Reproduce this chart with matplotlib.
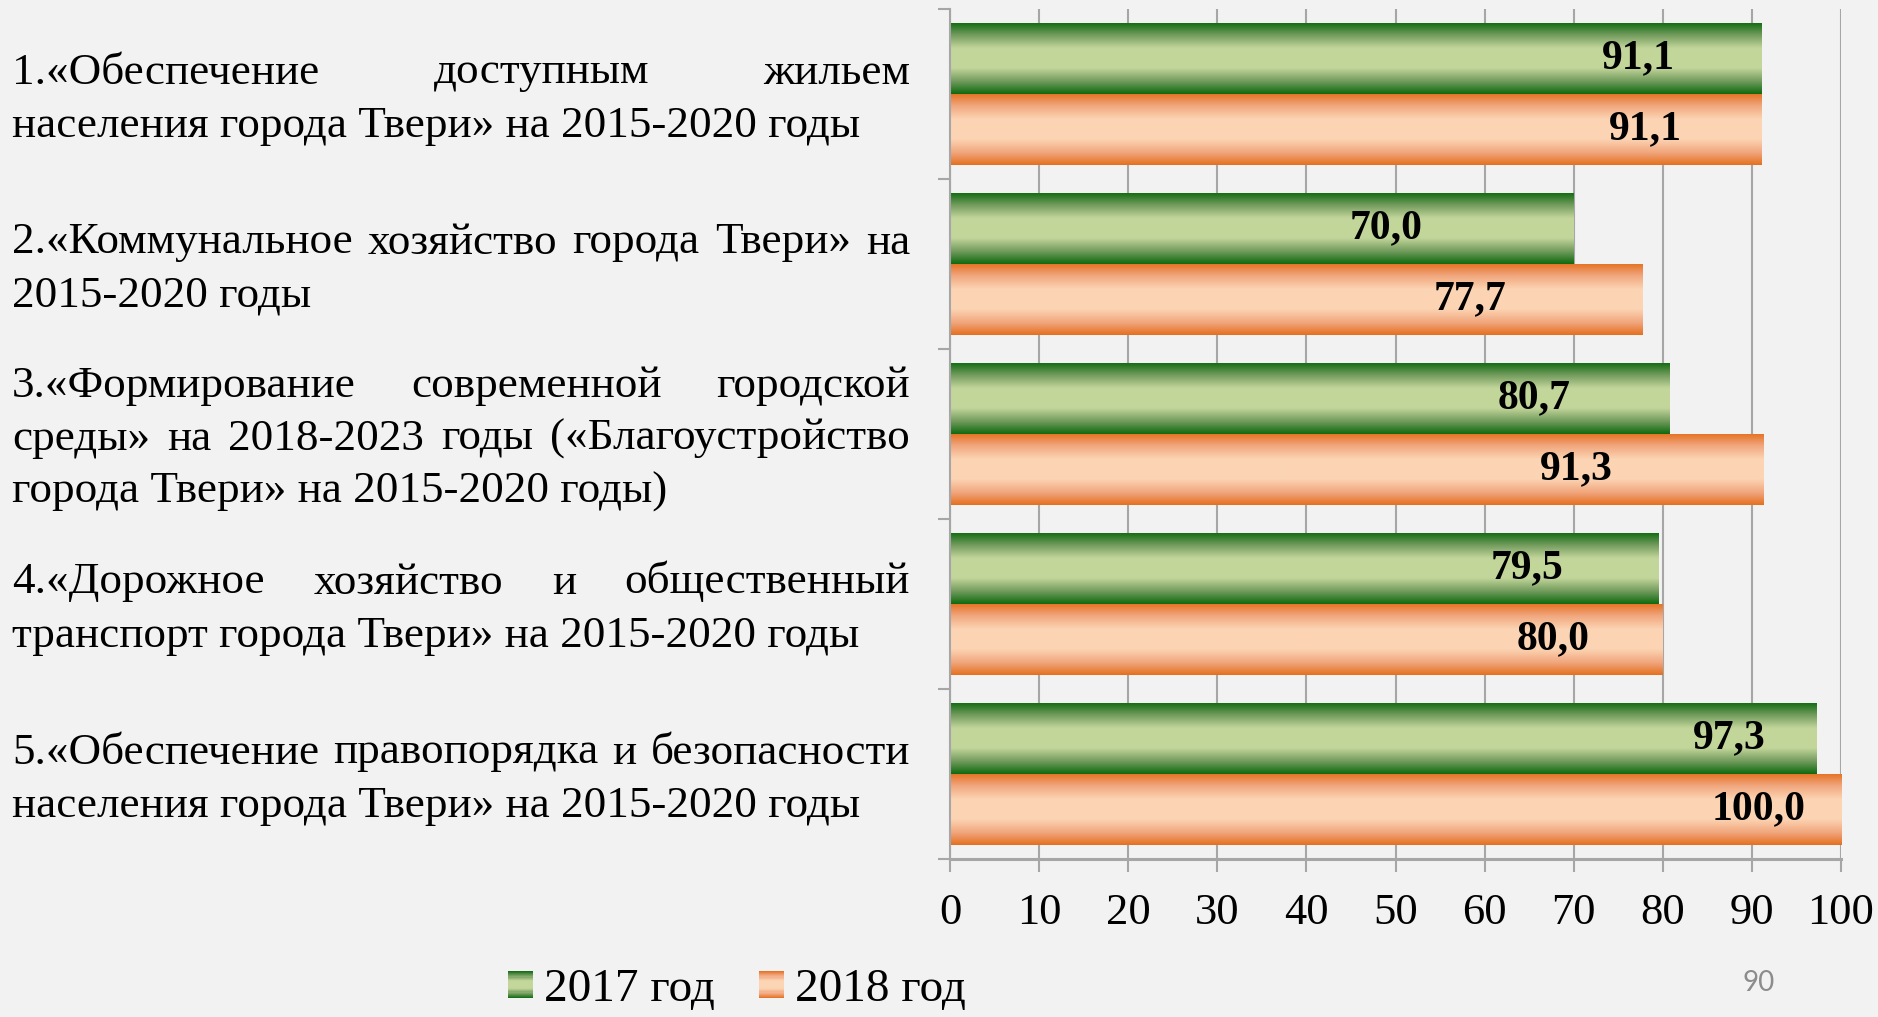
import matplotlib
matplotlib.use('Agg')
import numpy as np
import matplotlib.pyplot as plt
import matplotlib.transforms as mtransforms
from matplotlib.colors import LinearSegmentedColormap
from matplotlib.patches import Rectangle
from matplotlib.legend_handler import HandlerBase

# Data
programs = [
    ["1.«Обеспечение доступным жильем",
     "населения города Твери» на 2015-2020 годы"],
    ["2.«Коммунальное хозяйство города Твери» на",
     "2015-2020 годы"],
    ["3.«Формирование современной городской",
     "среды» на 2018-2023 годы («Благоустройство",
     "города Твери» на 2015-2020 годы)"],
    ["4.«Дорожное хозяйство и общественный",
     "транспорт города Твери» на 2015-2020 годы"],
    ["5.«Обеспечение правопорядка и безопасности",
     "населения города Твери» на 2015-2020 годы"],
]
vals_2017 = [91.1, 70.0, 80.7, 79.5, 97.3]
vals_2018 = [91.1, 77.7, 91.3, 80.0, 100.0]
series_names = ["2017 год", "2018 год"]
xticks = list(range(0, 101, 10))

# value labels were dragged by hand in the original: distance left of bar end
shift_2017 = [13.8, 21.0, 15.1, 14.7, 9.8]
shift_2018 = [13.0, 19.3, 21.0, 12.3, 9.3]

W, H = 1878, 1017
BG = '#f2f2f2'
GRID = '#a6a6a6'
SERIF = 'Liberation Serif'

fig = plt.figure(figsize=(W / 100, H / 100), dpi=100, facecolor=BG)
ax = fig.add_axes([950 / W, 1 - 859 / H, (1841 - 950) / W, (859 - 9) / H])
ax.set_facecolor(BG)

green = LinearSegmentedColormap.from_list('green', [
    (0.0, '#0e6a0e'), (0.17, '#6e995a'), (0.36, '#c2d59a'),
    (0.5, '#c4d79b'), (0.64, '#c2d59a'), (0.83, '#6e995a'), (1.0, '#0e6a0e')])
orange = LinearSegmentedColormap.from_list('orange', [
    (0.0, '#e56f1e'), (0.17, '#f0a57c'), (0.36, '#fcd4b3'),
    (0.5, '#fcd5b5'), (0.64, '#fcd4b3'), (0.83, '#f0a57c'), (1.0, '#e56f1e')])

y = np.arange(len(programs))
h = 0.42
bars17 = ax.barh(y - h / 2, vals_2017, height=h, color='none', zorder=2)
bars18 = ax.barh(y + h / 2, vals_2018, height=h, color='none', zorder=2)

# fill each bar with a vertical gradient
grad = np.linspace(0, 1, 256).reshape(-1, 1)
for bars, cmap in [(bars17, green), (bars18, orange)]:
    for r in bars:
        x0, y0 = r.get_x(), r.get_y()
        im = ax.imshow(grad, cmap=cmap, aspect='auto', interpolation='bilinear',
                       extent=(x0, x0 + r.get_width(), y0, y0 + r.get_height()),
                       zorder=2)
        im.set_clip_path(r)

ax.set_xlim(0, 100)
ax.set_ylim(len(programs) - 0.5, -0.5)


def fmt(v):
    return f"{v:.1f}".replace('.', ',')


for vals, shifts, off in [(vals_2017, shift_2017, -h / 2), (vals_2018, shift_2018, h / 2)]:
    for i, (v, s) in enumerate(zip(vals, shifts)):
        ax.text(v - s, i + off, fmt(v), ha='center', va='center', fontsize=30,
                fontweight='bold', family=SERIF, zorder=3)

# axes styling
ax.set_axisbelow(True)
ax.xaxis.grid(True, color=GRID, lw=1.5)
for side in ['top', 'right']:
    ax.spines[side].set_visible(False)
ax.spines['left'].set_color(GRID)
ax.spines['left'].set_linewidth(1.5)
ax.spines['bottom'].set_color(GRID)
ax.spines['bottom'].set_linewidth(2.2)
ax.set_yticks(np.arange(-0.5, len(programs), 1))
ax.set_yticklabels([])
ax.tick_params(axis='y', length=8.6, width=1.5, color=GRID, direction='out')
ax.set_xticks(xticks)
ax.set_xticklabels([str(t) for t in xticks], family=SERIF)
ax.tick_params(axis='x', length=9.4, width=1.5, color=GRID, labelsize=32, pad=15)

# category text on the left, justified like the slide
trans = mtransforms.blended_transform_factory(fig.transFigure, ax.transData)
renderer = fig.canvas.get_renderer()
left_px, right_px = 12, 910
base_off = 16 / 170
step = 53 / 170
fs = 32.5
for i, lines in enumerate(programs):
    n = len(lines)
    for k, line in enumerate(lines):
        yb = i + base_off + (k - (n - 1) / 2) * step
        if k == n - 1:
            ax.text(left_px / W, yb, line, transform=trans, ha='left', va='baseline',
                    fontsize=fs, family=SERIF)
            continue
        words = line.split()
        texts = [ax.text(left_px / W, yb, w_, transform=trans, ha='left',
                         va='baseline', fontsize=fs, family=SERIF) for w_ in words]
        widths = [t.get_window_extent(renderer).width for t in texts]
        gap = (right_px - left_px - sum(widths)) / (len(words) - 1)
        x = left_px
        for t, wd in zip(texts, widths):
            t.set_x(x / W)
            x += wd + gap


class GradHandler(HandlerBase):
    def __init__(self, cmap):
        super().__init__()
        self.cmap = cmap

    def create_artists(self, legend, orig_handle, xdescent, ydescent,
                       width, height, fontsize, trans):
        n = 24
        arts = []
        for j in range(n):
            arts.append(Rectangle((-xdescent, -ydescent + height * j / n), width,
                                  height / n * 1.05, facecolor=self.cmap((j + 0.5) / n),
                                  edgecolor='none', transform=trans))
        return arts


h1 = Rectangle((0, 0), 1, 1)
h2 = Rectangle((0, 0), 1, 1)
fig.legend(handles=[h1, h2], labels=series_names,
           handler_map={h1: GradHandler(green), h2: GradHandler(orange)},
           loc='center left', bbox_to_anchor=(508 / W, (H - 990) / H), ncol=2,
           frameon=False, prop={'family': SERIF, 'size': 34},
           handlelength=0.53, handleheight=0.53, handletextpad=0.23,
           columnspacing=0.94, borderpad=0, borderaxespad=0)

fig.text(1759 / W, (H - 983) / H, '90', ha='center', va='center', fontsize=20,
         color='#8c8c8c', family='Lato')

fig.savefig('out.png', dpi=100, facecolor=BG)
